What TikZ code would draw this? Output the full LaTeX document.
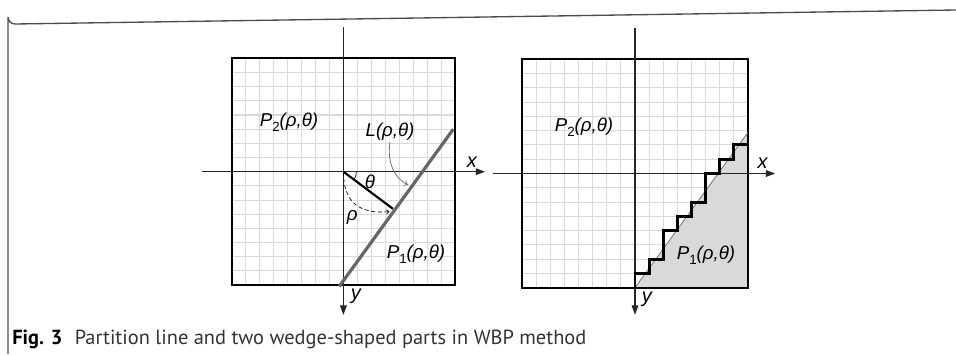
\documentclass[tikz,border=0pt]{standalone}
\usepackage{fontspec}
\setmainfont{Liberation Sans}
\newfontfamily\capfont{PT Sans}
\usetikzlibrary{arrows.meta}
\tikzset{
  gridline/.style={draw=black!15, line width=0.8pt},
  sqframe/.style={draw=black, line width=1.6pt},
  axisline/.style={draw=black!85, line width=0.8pt, -{Triangle[length=7pt,width=5pt]}},
  lbl/.style={inner sep=0pt, font=\fontsize{14}{15}\selectfont\itshape},
  axlbl/.style={inner sep=0pt, font=\fontsize{15}{16}\selectfont\itshape},
  partline/.style={draw=black!60, line width=2.4pt},
  thinline/.style={draw=black!55, line width=0.6pt},
  stairline/.style={draw=black, line width=2.2pt, line join=miter},
  normalseg/.style={draw=black, line width=1.6pt},
  pointer/.style={draw=black!55, line width=0.6pt, -{To[length=3pt,width=4pt]}},
  rhocurve/.style={draw=black, line width=0.5pt, dash pattern=on 3pt off 2pt, -{To[length=2.5pt,width=3.5pt]}},
  outerframe/.style={draw=black!70, line width=1pt},
  wedgefill/.style={fill=black!15}
}
\newcommand{\sbs}[1]{\raisebox{-0.28em}{\upshape\fontsize{10}{10}\selectfont #1}}
\newcommand{\cellgrid}{%
  \foreach \k in {-7,...,7} {
    \draw[gridline] (\k,-8) -- (\k,8);
    \draw[gridline] (-8,\k) -- (8,\k);
  }}
\begin{document}
\begin{tikzpicture}[x=0.75pt,y=-0.75pt]
\useasboundingbox (0,0) rectangle (956,354);
% outer frame
\coordinate (fa) at (8,354);
\coordinate (fb) at (956,10);
\draw[outerframe] (fa) -- (8,17) arc[start angle=180,end angle=90,radius=7] -- (fb);

% ---------------- left panel ----------------
\begin{scope}[shift={(343.4,171.7)}, x=10.47pt, y=-10.6275pt]
  \cellgrid
  \draw[sqframe] (-8,-8) rectangle (8,8);
  \coordinate (LO) at (0,0);
  \coordinate (Lxl) at (-10.15,0);
  \coordinate (Lxr) at (10.15,0);
  \coordinate (Lyt) at (0,-10.2);
  \coordinate (Lyb) at (0,10.1);
  \draw[axisline] (Lxl) -- (Lxr);
  \draw[axisline] (Lyt) -- (Lyb);
  \coordinate (Lfoot) at (3.55,2.62);
  \draw[normalseg] (LO) -- (Lfoot);
  \coordinate (La) at (-0.3,8.1);
  \coordinate (Lb) at (7.87,-3.0);
  \draw[partline] (La) -- (Lb);
  \draw[black, line width=0.5pt] (0.93,0) arc[start angle=0,end angle=36.4,radius=0.93];
  \coordinate (Ldash) at (3.3,2.82);
  \draw[rhocurve] (LO) .. controls (0,2.2) and (1.2,3.0) .. (Ldash);
  \node[lbl] (Ltheta) at (1.9,0.72) {θ};
  \node[lbl] (Lrho) at (0.64,3.2) {ρ};
  \node[lbl] (LP2) at (-3.9,-3.5) {P\sbs{2}(ρ,θ)};
  \node[lbl] (LL) at (3.34,-2.8) {L(ρ,θ)};
  \node[lbl] (LP1) at (5.2,5.8) {P\sbs{1}(ρ,θ)};
  \node[axlbl] (Lx) at (9.2,-0.68) {x};
  \node[axlbl] (Ly) at (0.9,8.77) {y};
  \coordinate (Lpt) at (4.65,0.94);
  \draw[pointer] (3.34,-2.1) .. controls (3.1,-0.6) and (3.7,0.5) .. (Lpt);
\end{scope}

% ---------------- right panel ----------------
\begin{scope}[shift={(635,173.5)}, x=10.5675pt, y=-10.7025pt]
  \cellgrid
  \coordinate (Ra) at (0,8);
  \coordinate (Rb) at (8,-2.85);
  \coordinate (Rc) at (8,8);
  \fill[wedgefill] (Ra) -- (Rb) -- (Rc) -- cycle;
  \draw[sqframe] (-8,-8) rectangle (8,8);
  \coordinate (Rxl) at (-10.1,0);
  \coordinate (Rxr) at (9.95,0);
  \coordinate (Ryt) at (0,-10.2);
  \coordinate (Ryb) at (0,9.9);
  \draw[axisline] (Rxl) -- (Rxr);
  \draw[axisline] (Ryt) -- (Ryb);
  \draw[thinline] (Ra) -- (Rb);
  \draw[stairline] (0,8) -- (0,7) -- (1,7) -- (1,6) -- (2,6) -- (2,4) -- (3,4) -- (3,3) -- (4,3) -- (4,2) -- (5,2) -- (5,0) -- (6,0) -- (6,-1) -- (7,-1) -- (7,-2) -- (8,-2);
  \node[lbl] (RP2) at (-3.62,-3.26) {P\sbs{2}(ρ,θ)};
  \node[lbl] (RP1) at (5.04,5.71) {P\sbs{1}(ρ,θ)};
  \node[axlbl] (Rx) at (9.06,-0.74) {x};
  \node[axlbl] (Ry) at (0.85,8.8) {y};
\end{scope}

% caption
\node[anchor=base west, inner sep=0pt, font=\capfont\fontsize{15.3}{16}\selectfont] (cap) at (12,344)
  {\textbf{Fig. 3}\hspace{0.6em}\textcolor{black!80}{Partition line and two wedge-shaped parts in WBP method}};
\end{tikzpicture}
\end{document}
